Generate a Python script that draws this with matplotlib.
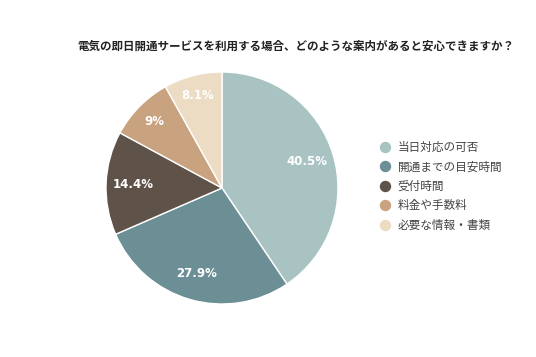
import numpy as np
import matplotlib.pyplot as plt
from matplotlib.lines import Line2D

plt.rcParams['font.family'] = ['Noto Sans CJK JP', 'DejaVu Sans']

title = "電気の即日開通サービスを利用する場合、どのような案内があると安心できますか？"
labels = ["当日対応の可否", "開通までの目安時間", "受付時間", "料金や手数料", "必要な情報・書類"]
values = [40.5, 27.9, 14.4, 9.0, 8.1]
pct_text = ["40.5%", "27.9%", "14.4%", "9%", "8.1%"]
colors = ["#a9c3c3", "#6b8f95", "#5f5249", "#c9a27f", "#ecdcc3"]

fig = plt.figure(figsize=(5.36, 3.57), dpi=100)
W, H = 536, 357

# pie axes: center (222,188), radius 116 px
r = 116
cx, cy = 222, 188
ax = fig.add_axes([(cx - r) / W, 1 - (cy + r) / H, 2 * r / W, 2 * r / H])
wedges, _ = ax.pie(values, colors=colors, startangle=90, counterclock=False,
                   wedgeprops=dict(edgecolor="white", linewidth=1))
ax.set_xlim(-1, 1)
ax.set_ylim(-1, 1)
ax.set_aspect("equal")

for w, t in zip(wedges, pct_text):
    mid = np.deg2rad((w.theta1 + w.theta2) / 2)
    span = abs(w.theta2 - w.theta1)
    d = 0.82 if span < 40 else 0.77
    ax.text(d * np.cos(mid), d * np.sin(mid), t, ha="center", va="center",
            color="white", fontsize=8.5, fontweight="bold", family="DejaVu Sans")

fig.text(296 / W, 1 - 46 / H, title, ha="center", va="center",
         fontsize=8.3, fontweight="bold", color="#222222")

handles = [Line2D([0], [0], marker="o", linestyle="", markersize=7.2,
                  markerfacecolor=c, markeredgecolor=c) for c in colors]
fig.legend(handles, labels, loc="upper left", bbox_to_anchor=(379 / W, 1 - 141 / H),
           frameon=False, fontsize=8.4, handletextpad=0.6, labelspacing=0.55,
           labelcolor="#444444", borderaxespad=0, borderpad=0, handlelength=1.0)

fig.savefig("out.png", dpi=100, facecolor="white")
